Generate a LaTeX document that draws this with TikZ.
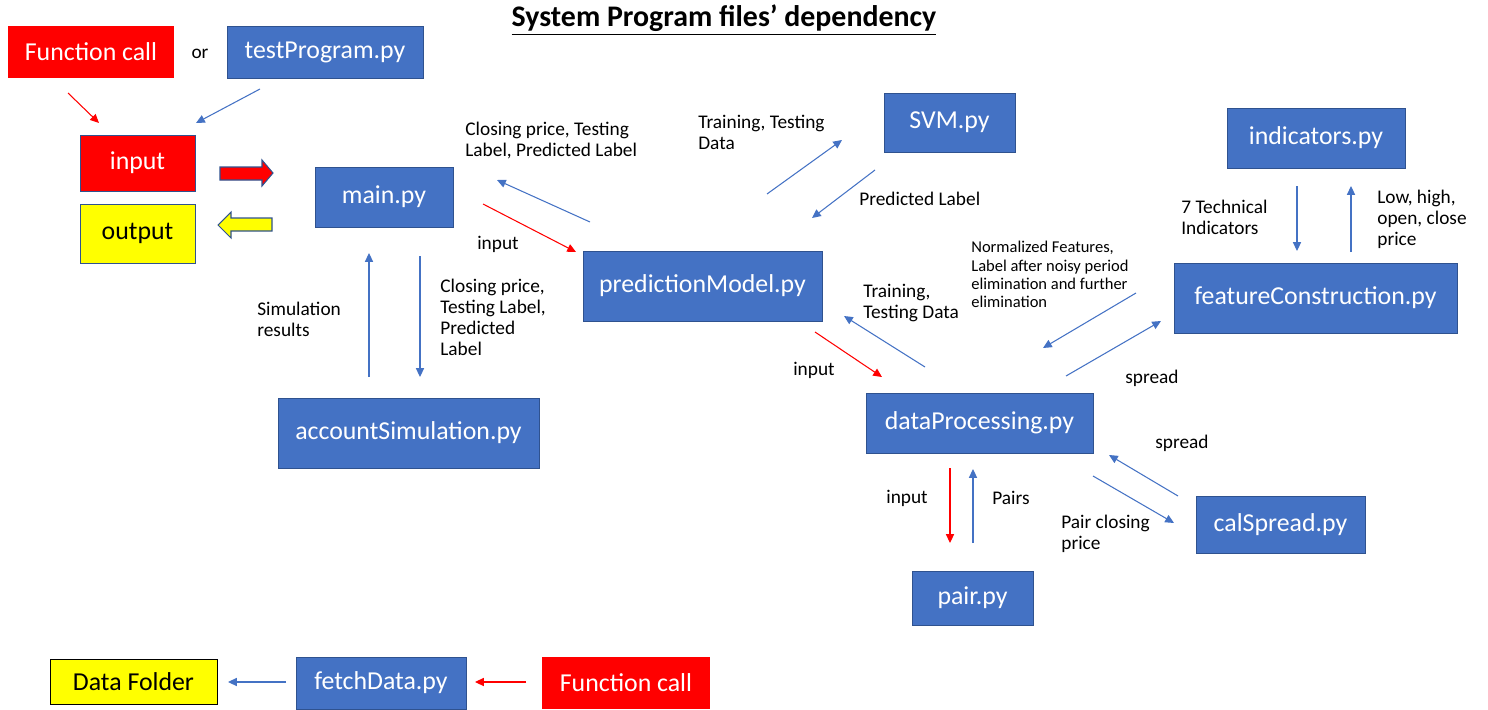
\documentclass[tikz,border=0pt]{standalone}
\usepackage{fontspec}
\setmainfont{Carlito}
\usetikzlibrary{arrows.meta}
\definecolor{boxblue}{HTML}{4472C4}
\definecolor{edgeblue}{HTML}{2F528F}
\definecolor{callred}{HTML}{FF0000}
\definecolor{folderyellow}{HTML}{FFFF00}

\begin{document}
\begin{tikzpicture}[x=0.02cm,y=-0.02cm,
      pybox/.style={draw=edgeblue,fill=boxblue,text=white,inner sep=0pt,font=\fontsize{14.7}{17}\selectfont},
      callbox/.style={fill=callred,text=white,inner sep=0pt,font=\fontsize{14.7}{17}\selectfont},
      iobox/.style={draw=edgeblue,inner sep=0pt,font=\fontsize{14.7}{17}\selectfont},
      lbl/.style={align=left,anchor=west,inner sep=0pt,font=\fontsize{11}{11.9}\selectfont},
      smalllbl/.style={lbl,font=\fontsize{9.4}{10.4}\selectfont},
      arr/.style={-{Triangle[length=5pt,width=4.6pt]},line width=0.6pt,boxblue},
      redarr/.style={arr,callred}
    ]
    \useasboundingbox (0,0) rectangle (1488,710);
    \node[font=\fontsize{17}{20}\selectfont\bfseries] (title) at (724,20) {\underline{System Program files’ dependency}};

    % entry points
    \node[callbox,minimum width=3.32cm,minimum height=1.04cm] (call) at (91,52) {Function call};
    \node[lbl,anchor=center] (or) at (200,54) {or};
    \node[pybox,minimum width=3.92cm,minimum height=1.04cm] (test) at (325,52) {testProgram.py};
    \node[iobox,fill=callred,text=white,minimum width=2.30cm,minimum height=1.12cm] (input) at (137.5,163) {input};
    \node[iobox,fill=folderyellow,minimum width=2.30cm,minimum height=1.18cm] (output) at (137.5,233.5) {output};

    % program files
    \node[pybox,minimum width=2.76cm,minimum height=1.20cm] (main) at (384,197) {main.py};
    \node[pybox,minimum width=4.78cm,minimum height=1.40cm] (pred) at (702.5,286) {predictionModel.py};
    \node[pybox,minimum width=2.62cm,minimum height=1.18cm] (svm) at (949.5,122.5) {SVM.py};
    \node[pybox,minimum width=5.22cm,minimum height=1.40cm] (acct) at (408.5,433) {accountSimulation.py};
    \node[pybox,minimum width=4.54cm,minimum height=1.20cm] (dp) at (979.5,423) {dataProcessing.py};
    \node[pybox,minimum width=3.56cm,minimum height=1.20cm] (ind) at (1316,138) {indicators.py};
    \node[pybox,minimum width=5.66cm,minimum height=1.40cm] (feat) at (1315.5,298) {featureConstruction.py};
    \node[pybox,minimum width=3.38cm,minimum height=1.14cm] (cal) at (1280.5,524.5) {calSpread.py};
    \node[pybox,minimum width=2.42cm,minimum height=1.08cm] (pair) at (972.5,598) {pair.py};

    % data download
    \node[draw=black,fill=folderyellow,inner sep=0pt,font=\fontsize{14.7}{17}\selectfont,minimum width=3.34cm,minimum height=0.90cm] (folder) at (133.5,681.5) {Data Folder};
    \node[pybox,minimum width=3.40cm,minimum height=1.04cm] (fetch) at (381,683) {fetchData.py};
    \node[callbox,minimum width=3.36cm,minimum height=1.04cm] (call2) at (626,683) {Function call};

    % block arrows between input/output and main
    \draw[edgeblue,fill=callred,line width=0.6pt] (220,167)--(262,167)--(262,160)--(273,173)--(262,186)--(262,180)--(220,180)--cycle;
    \draw[edgeblue,fill=folderyellow,line width=0.6pt] (272,218)--(231,218)--(231,212)--(218,225)--(231,238)--(231,231)--(272,231)--cycle;

    % arrow end points
    \coordinate (call-a) at (68,93);    \coordinate (call-b) at (99,123);
    \coordinate (test-a) at (260,89);   \coordinate (test-b) at (196,123);
    \coordinate (pm-a) at (590,222);    \coordinate (pm-b) at (497,180);
    \coordinate (mp-a) at (483,204);    \coordinate (mp-b) at (576,252);
    \coordinate (ps-a) at (767,194);    \coordinate (ps-b) at (842,140);
    \coordinate (sp-a) at (875,170);    \coordinate (sp-b) at (812,218);
    \coordinate (am-a) at (369,377);    \coordinate (am-b) at (369,253);
    \coordinate (ma-a) at (420,256);    \coordinate (ma-b) at (420,377);
    \coordinate (dpp-a) at (925,367);   \coordinate (dpp-b) at (844,316);
    \coordinate (pdp-a) at (815,332);   \coordinate (pdp-b) at (882,377);
    \coordinate (fd-a) at (1136,293);   \coordinate (fd-b) at (1043,348);
    \coordinate (df-a) at (1066,376);   \coordinate (df-b) at (1161,321);
    \coordinate (if-a) at (1297,186);   \coordinate (if-b) at (1297,251);
    \coordinate (fi-a) at (1351,252);   \coordinate (fi-b) at (1351,186);
    \coordinate (cd-a) at (1178,496);   \coordinate (cd-b) at (1109,455);
    \coordinate (dc-a) at (1093,476);   \coordinate (dc-b) at (1174,523);
    \coordinate (dpr-a) at (950,468);   \coordinate (dpr-b) at (950,543);
    \coordinate (prd-a) at (973,543);   \coordinate (prd-b) at (973,469);
    \coordinate (ff-a) at (286,682);    \coordinate (ff-b) at (228,682);
    \coordinate (cf-a) at (526,682);    \coordinate (cf-b) at (475,682);

    \draw[redarr] (call-a) -- (call-b);
    \draw[arr] (test-a) -- (test-b);
    \draw[arr] (pm-a) -- (pm-b);
    \draw[redarr] (mp-a) -- (mp-b);
    \draw[arr] (ps-a) -- (ps-b);
    \draw[arr] (sp-a) -- (sp-b);
    \draw[arr] (am-a) -- (am-b);
    \draw[arr] (ma-a) -- (ma-b);
    \draw[arr] (dpp-a) -- (dpp-b);
    \draw[redarr] (pdp-a) -- (pdp-b);
    \draw[arr] (fd-a) -- (fd-b);
    \draw[arr] (df-a) -- (df-b);
    \draw[arr] (if-a) -- (if-b);
    \draw[arr] (fi-a) -- (fi-b);
    \draw[arr] (cd-a) -- (cd-b);
    \draw[arr] (dc-a) -- (dc-b);
    \draw[redarr] (dpr-a) -- (dpr-b);
    \draw[arr] (prd-a) -- (prd-b);
    \draw[arr] (ff-a) -- (ff-b);
    \draw[redarr] (cf-a) -- (cf-b);

    % what passes along each arrow
    \node[lbl] (l-pm) at (465,140.5) {Closing price, Testing\\Label, Predicted Label};
    \node[lbl,anchor=center] (l-mp) at (498,244) {input};
    \node[lbl] (l-ps) at (698,132) {Training, Testing\\Data};
    \node[lbl] (l-sp) at (859,199) {Predicted Label};
    \node[lbl] (l-am) at (257,319.5) {Simulation\\results};
    \node[lbl] (l-ma) at (440,317) {Closing price,\\Testing Label,\\Predicted\\Label};
    \node[lbl] (l-dpp) at (863,303) {Training,\\Testing Data};
    \node[lbl,anchor=center] (l-pdp) at (814,370) {input};
    \node[smalllbl] (l-fd) at (971,274.5) {Normalized Features,\\Label after noisy period\\elimination and further\\elimination};
    \node[lbl] (l-if) at (1181,217.5) {7 Technical\\Indicators};
    \node[lbl] (l-fi) at (1377,219) {Low, high,\\open, close\\price};
    \node[lbl] (l-df) at (1125,378) {spread};
    \node[lbl] (l-cd) at (1155,443) {spread};
    \node[lbl] (l-dc) at (1061,533.5) {Pair closing\\price};
    \node[lbl,anchor=center] (l-dpr) at (907,498) {input};
    \node[lbl] (l-prd) at (992,498) {Pairs};
  \end{tikzpicture}
\end{document}
